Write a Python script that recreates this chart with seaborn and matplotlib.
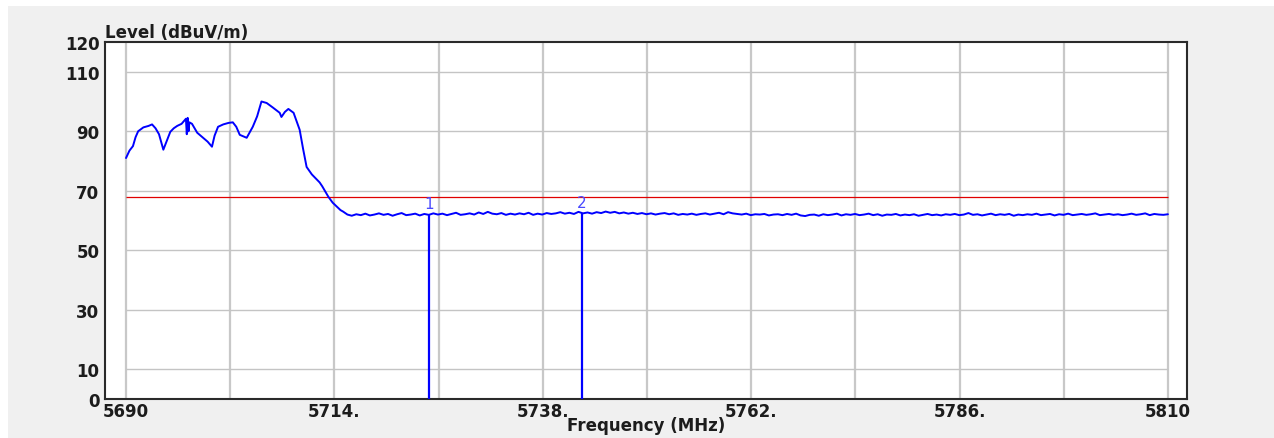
import numpy as np
import pandas as pd
import seaborn as sns
import matplotlib.pyplot as plt
from matplotlib.patches import Rectangle

# spectrum trace - rising part
head_freq = [5690.0, 5690.4, 5690.8, 5691.1, 5691.4, 5692.0, 5692.6, 5693.0, 5693.4, 5693.8,
             5694.3, 5694.8, 5695.1, 5695.5, 5695.9, 5696.4, 5696.9, 5697.0, 5697.1, 5697.2,
             5697.3, 5697.6, 5698.2, 5698.8, 5699.4, 5699.9, 5700.2, 5700.6, 5701.2, 5701.8,
             5702.3, 5702.7, 5703.1, 5703.9, 5704.6, 5705.1, 5705.6, 5706.2, 5706.9, 5707.7,
             5707.9, 5708.3, 5708.7, 5709.3, 5709.7, 5710.0, 5710.4, 5710.8, 5711.4, 5712.0,
             5712.3, 5712.6, 5713.0, 5713.3, 5713.8, 5714.3, 5714.7, 5715.0, 5715.5]
head_level = [81.0, 83.5, 85.0, 88.0, 90.0, 91.3, 91.8, 92.3, 91.0, 89.0,
              83.8, 87.5, 89.8, 91.0, 91.8, 92.5, 94.2, 89.0, 94.5, 90.0,
              93.0, 92.5, 89.5, 88.0, 86.5, 84.8, 88.5, 91.5, 92.3, 92.8,
              93.0, 91.5, 88.8, 87.8, 91.5, 95.0, 100.0, 99.5, 98.0, 96.2,
              94.8, 96.5, 97.5, 96.2, 93.0, 90.5, 84.0, 78.0, 75.5, 73.7,
              72.8, 71.5, 69.5, 68.0, 66.0, 64.6, 63.5, 63.0, 62.0]

# noise floor 5716 .. 5810 MHz
floor_level = [61.6, 62.1, 61.8, 62.3, 61.7, 62.0, 62.4, 61.9, 62.2, 61.6, 62.1, 62.5, 61.8, 62.0, 62.3, 61.7, 62.2, 61.9, 62.4,
               62.0, 62.3, 61.8, 62.2, 62.6, 61.9, 62.1, 62.4, 62.0, 62.7, 62.2, 62.9, 62.3, 62.1, 62.5, 61.9, 62.3, 62.0, 62.4,
               62.1, 62.6, 61.9, 62.3, 62.0, 62.5, 62.2, 62.4, 62.8, 62.3, 62.6, 62.2, 62.9, 62.4, 62.7, 62.3, 62.8, 62.5, 63.0,
               62.6, 62.9, 62.4, 62.7, 62.3, 62.6, 62.2, 62.5, 62.1, 62.4, 62.0, 62.3, 62.5, 62.1, 62.4, 61.9, 62.2, 62.0, 62.3,
               61.9, 62.2, 62.4, 62.0, 62.3, 62.6, 62.1, 62.8, 62.4, 62.2, 62.0, 62.3, 61.8, 62.1, 62.0, 62.2, 61.7, 62.0, 62.1,
               61.8, 62.2, 61.9, 62.3, 61.7, 61.5, 61.9, 62.0, 61.6, 62.1, 61.8, 62.0, 62.3, 61.7, 62.1, 61.9, 62.2, 61.8, 62.0,
               62.3, 61.8, 62.1, 61.6, 62.0, 61.9, 62.2, 61.7, 62.0, 61.8, 62.1, 61.6, 61.9, 62.2, 61.8, 62.0, 61.7, 62.1, 61.9,
               62.2, 61.8, 62.0, 62.5, 61.9, 62.1, 61.7, 62.0, 62.3, 61.8, 62.1, 61.9, 62.2, 61.6, 62.0, 61.8, 62.1, 61.9, 62.3,
               61.8, 62.0, 62.2, 61.7, 62.1, 61.9, 62.3, 61.8, 62.0, 62.2, 61.9, 62.1, 62.4, 61.8, 62.0, 62.2, 61.9, 62.1, 61.8,
               62.0, 62.3, 61.9, 62.1, 62.4, 61.8, 62.2, 62.0, 61.9, 62.1]
floor_freq = np.linspace(5716, 5810, len(floor_level))

marker_freq = [5724.9, 5742.5]
marker_level = [62.3, 62.6]
marker_names = ["1", "2"]
limit_level = 68

x_ticks = [5690, 5714, 5738, 5762, 5786, 5810]
x_ticklabels = ["5690", "5714.", "5738.", "5762.", "5786.", "5810"]
y_ticks = [0, 10, 30, 50, 70, 90, 110, 120]
y_gridlines = [10, 30, 50, 70, 90, 110]

assert len(head_freq) == len(head_level)
trace = pd.DataFrame({"freq": list(head_freq) + list(floor_freq),
                      "level": list(head_level) + list(floor_level)})

sns.set_style("white")
plt.rcParams["font.family"] = ["DejaVu Sans"]

fig = plt.figure(figsize=(12.74, 4.39), dpi=100, facecolor="white")
# grey window background with a thin white strip top/left
fig.patches.append(Rectangle((8 / 1274, -0.05), 1.05, 1.05 - 7 / 439, transform=fig.transFigure,
                             facecolor="#f0f0f0", edgecolor="none", zorder=-10))
ax = fig.add_axes([105 / 1274, 1 - 400 / 439, (1187 - 105) / 1274, (400 - 43) / 439])
ax.set_facecolor("white")

# grid only inside the sweep span
for f in np.arange(5690, 5811, 12):
    ax.axvline(f, color="#c8c8c8", lw=1.6, zorder=1)
ax.hlines(y_gridlines, 5690, 5810, color="#c4c4c4", lw=1.0, zorder=1)
ax.hlines(limit_level, 5690, 5810, color="#e00000", lw=0.9, zorder=2)

sns.lineplot(data=trace, x="freq", y="level", ax=ax, color="#0000ff", lw=1.4,
             estimator=None, sort=False, zorder=3)

ax.vlines(marker_freq, 0, marker_level, color="#0000ff", lw=1.6, zorder=3)
for f, lv, name in zip(marker_freq, marker_level, marker_names):
    ax.text(f, lv + 1.0, name, color="#4a4aff", fontsize=11, ha="center", va="bottom", zorder=4)

ax.set_xlim(5687.58, 5812.2)
ax.set_ylim(0, 120)
ax.set_xticks(x_ticks)
ax.set_xticklabels(x_ticklabels)
ax.set_yticks(y_ticks)
ax.set_yticklabels([str(v) for v in y_ticks])
ax.tick_params(length=0, labelsize=12, colors="#1c1c1c", pad=4)
for lab in ax.get_xticklabels() + ax.get_yticklabels():
    lab.set_fontweight("bold")
ax.tick_params(axis="x", pad=2)

ax.set_xlabel("Frequency (MHz)", fontsize=12, fontweight="bold", color="#1c1c1c", labelpad=-3)
ax.set_ylabel("")
ax.text(0, 1.003, "Level (dBuV/m)", transform=ax.transAxes, fontsize=12, fontweight="bold",
        color="#1c1c1c", ha="left", va="bottom")

for s in ax.spines.values():
    s.set_visible(True)
    s.set_color("#2a2a2a")
    s.set_linewidth(1.5)

fig.savefig("out.png", dpi=100, facecolor=fig.get_facecolor())
